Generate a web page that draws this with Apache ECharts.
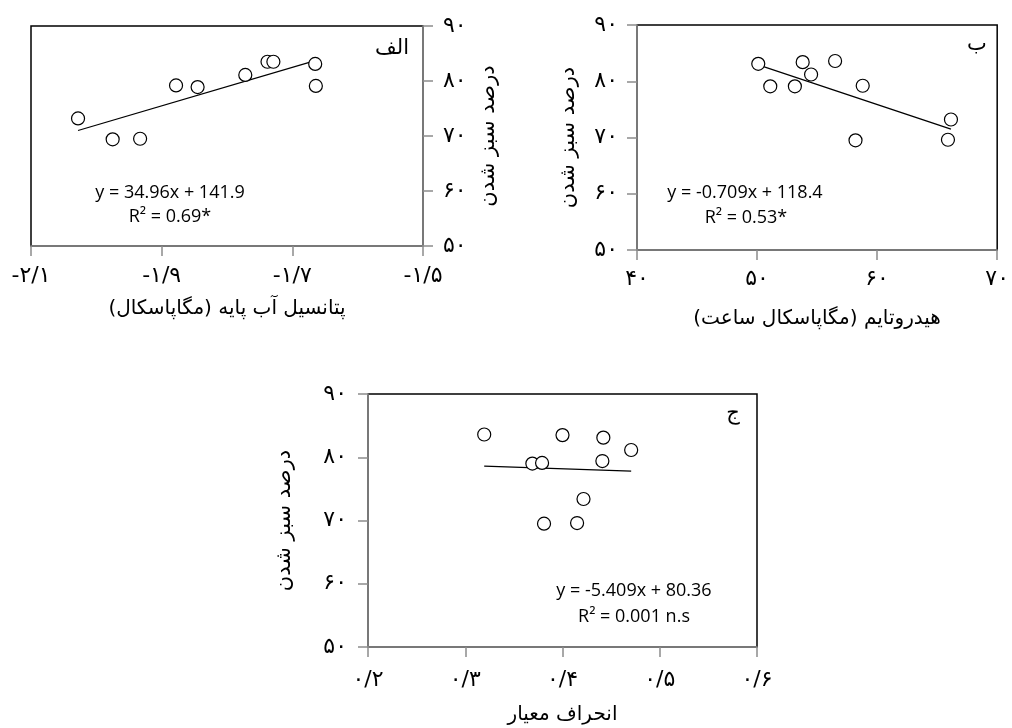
<!DOCTYPE html>
<html>
<head>
<meta charset="utf-8">
<script src="https://cdn.jsdelivr.net/npm/echarts@6/dist/echarts.min.js"></script>
<style>
    html, body { margin: 0; padding: 0; background: #fff; }
    #chart { width: 1012px; height: 728px; }
</style>
</head>
<body>
<div id="chart"></div>
<script>
// داده‌ها (خوانده شده از تصویر)
var yTitle = 'درصد سبز شدن';

// الف - پتانسیل آب پایه
var aX = [-2.028, -1.975, -1.933, -1.878, -1.845, -1.772, -1.738, -1.729, -1.665, -1.664];
var aY = [73.2, 69.4, 69.5, 79.2, 78.9, 81.1, 83.5, 83.5, 83.1, 79.1];
var aTrend = [[-2.028, 71.0], [-1.665, 83.7]];
var aEq = ['y = 34.96x + 141.9', 'R\u00b2 = 0.69*'];

// ب - هیدروتایم
var bX = [50.1, 51.1, 53.15, 53.8, 54.5, 56.5, 58.8, 58.2, 66.15, 65.9];
var bY = [83.1, 79.1, 79.1, 83.4, 81.2, 83.6, 79.2, 69.5, 73.2, 69.6];
var bTrend = [[50.1, 82.9], [66.15, 71.5]];
var bEq = ['y = -0.709x + 118.4', 'R\u00b2 = 0.53*'];

// ج - انحراف معیار
var cX = [0.3195, 0.369, 0.379, 0.400, 0.442, 0.441, 0.4706, 0.4216, 0.381, 0.415];
var cY = [83.6, 79.0, 79.1, 83.5, 83.1, 79.4, 81.15, 73.4, 69.5, 69.6];
var cTrend = [[0.3195, 78.6], [0.4706, 77.8]];
var cEq = ['y = -5.409x + 80.36', 'R\u00b2 = 0.001 n.s'];

(function(){

    var faFont = 'DejaVu Sans';
    var eqFont = 'Open Sans';
    var axisGray = '#8c8c8c';

    // تبدیل اعداد به ارقام فارسی با ممیز /
    var toFa = function(v, dec){
        var s = dec ? (+v).toFixed(dec) : String(Math.round(v));
        return s.replace('.', '/').replace(/[0-9]/g, function(d){
            return String.fromCharCode(0x06F0 + (+d));
        });
    };
    var rtl = function(s){ return '\u200F' + s + '\u200F'; };

    var pairs = function(xs, ys){
        var out = [];
        for (var i = 0; i < xs.length; i++) out.push([xs[i], ys[i]]);
        return out;
    };

    var xAxisOf = function(grid, min, max, step, dec, name, gap, margin){
        return {
            type: 'value', gridIndex: grid, min: min, max: max, interval: step,
            name: rtl(name), nameLocation: 'middle', nameGap: gap,
            nameTextStyle: { fontFamily: faFont, fontSize: 20, color: '#000' },
            axisLine: { show: true, onZero: false, lineStyle: { color: axisGray, width: 1.5 } },
            axisTick: { show: true, inside: false, length: 10, lineStyle: { color: axisGray, width: 1.5 } },
            axisLabel: {
                margin: margin, fontFamily: faFont, fontSize: 22, color: '#000',
                formatter: function(v){ return toFa(v, dec); }
            },
            splitLine: { show: false }
        };
    };

    var yAxisOf = function(grid, pos, gap, margin){
        return {
            type: 'value', gridIndex: grid, position: pos, min: 50, max: 90, interval: 10,
            name: rtl(yTitle), nameLocation: 'middle', nameRotate: 90, nameGap: gap,
            nameTextStyle: { fontFamily: faFont, fontSize: 21, color: '#000' },
            axisLine: { show: true, onZero: false, lineStyle: { color: axisGray, width: 1.5 } },
            axisTick: { show: true, inside: false, length: 10, lineStyle: { color: axisGray, width: 1.5 } },
            axisLabel: {
                margin: margin, fontFamily: faFont, fontSize: 22, color: '#000',
                formatter: function(v){ return toFa(v); }
            },
            splitLine: { show: false }
        };
    };

    var dots = function(idx, data){
        return {
            type: 'scatter', xAxisIndex: idx, yAxisIndex: idx, data: data,
            symbol: 'circle', symbolSize: 13,
            itemStyle: { color: '#fff', borderColor: '#000', borderWidth: 1.2, opacity: 1 },
            z: 3
        };
    };

    var trend = function(idx, data){
        return {
            type: 'line', xAxisIndex: idx, yAxisIndex: idx, data: data,
            symbol: 'none', lineStyle: { color: '#000', width: 1.3 }, z: 2
        };
    };

    // متن‌های داخل نمودار، وسط‌چین روی نقطه داده‌شده
    var label = function(x, y, s, font, size){
        return {
            type: 'text', x: x, y: y,
            style: {
                text: s, font: size + 'px "' + font + '"', fill: '#000',
                align: 'center', verticalAlign: 'middle'
            },
            z: 10
        };
    };

    var chart = echarts.init(document.getElementById('chart'));
    var option = {
        animation: false,
        backgroundColor: '#fff',
        grid: [
            { left: 31, top: 26, width: 392, height: 220, show: true, borderColor: '#000', borderWidth: 1.5, backgroundColor: 'transparent' },
            { left: 637, top: 25, width: 366, height: 225, show: true, borderColor: '#000', borderWidth: 1.5, backgroundColor: 'transparent' },
            { left: 368, top: 394, width: 389, height: 253, show: true, borderColor: '#000', borderWidth: 1.5, backgroundColor: 'transparent' }
        ],
        xAxis: [
            xAxisOf(0, -2.1, -1.5, 0.2, 1, 'پتانسیل آب پایه (مگاپاسکال)', 53, 19),
            xAxisOf(1, 40, 70, 10, 0, 'هیدروتایم (مگاپاسکال ساعت)', 59, 18),
            xAxisOf(2, 0.2, 0.6, 0.1, 1, 'انحراف معیار', 58, 22)
        ],
        yAxis: [
            yAxisOf(0, 'right', 55, 20),
            yAxisOf(1, 'left', 58, 19),
            yAxisOf(2, 'left', 73, 21)
        ],
        series: [
            trend(0, aTrend), dots(0, pairs(aX, aY)),
            trend(1, bTrend), dots(1, pairs(bX, bY)),
            trend(2, cTrend), dots(2, pairs(cX, cY))
        ],
        graphic: [
            label(170, 193, aEq[0], eqFont, 18),
            label(170, 217, aEq[1], eqFont, 18),
            label(745, 193, bEq[0], eqFont, 18),
            label(746, 218, bEq[1], eqFont, 18),
            label(634, 591, cEq[0], eqFont, 18),
            label(634, 617, cEq[1], eqFont, 18),
            label(392, 49, 'الف', faFont, 21),
            label(977, 45, 'ب', faFont, 21),
            label(733, 414, 'ج', faFont, 21)
        ]
    };
    chart.setOption(option);

})();
</script>
</body>
</html>
